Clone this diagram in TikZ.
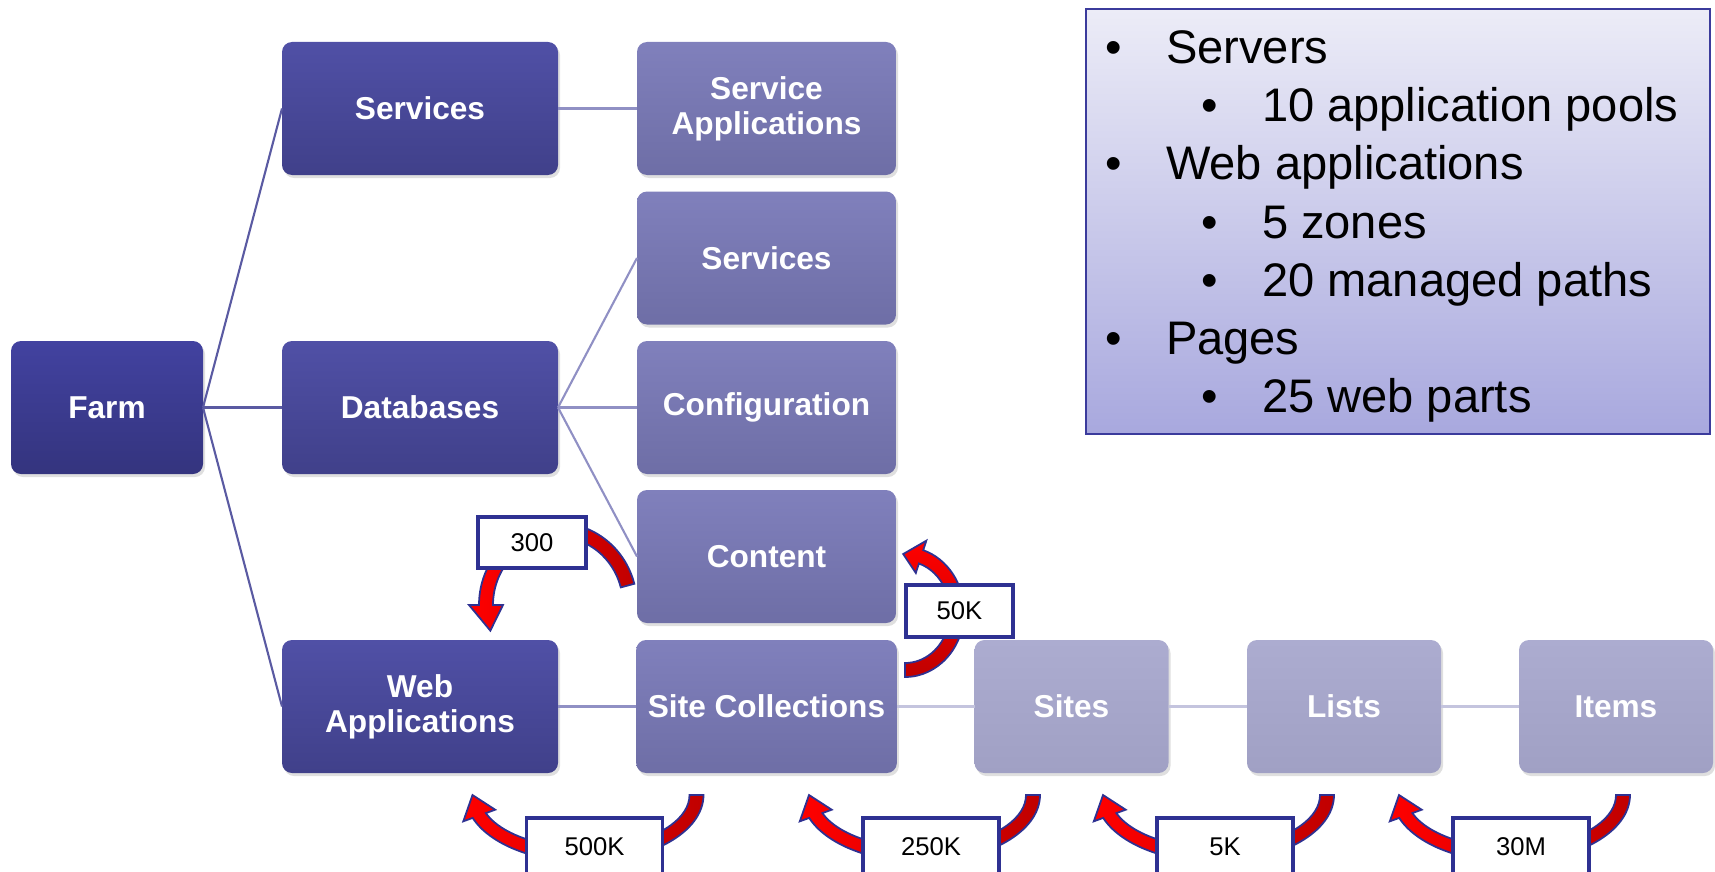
\documentclass[tikz,border=0pt]{standalone}
\usepackage{fontspec}
\setmainfont{Liberation Sans}
\usetikzlibrary{shadows}

\definecolor{farmtop}{HTML}{4242A0}
\definecolor{farmbot}{HTML}{34347E}
\definecolor{tiertop}{HTML}{5050A6}
\definecolor{tierbot}{HTML}{40408A}
\definecolor{subtop}{HTML}{8080BC}
\definecolor{subbot}{HTML}{6E6EA6}
\definecolor{leaftop}{HTML}{ACACD0}
\definecolor{leafbot}{HTML}{A0A0C4}
\definecolor{linkdark}{HTML}{5A5AA2}
\definecolor{linkmid}{HTML}{9090C4}
\definecolor{linklight}{HTML}{C4C4DE}
\definecolor{navy}{HTML}{2E3192}
\definecolor{darkred}{HTML}{C00000}
\definecolor{legendtop}{HTML}{ECECF7}
\definecolor{legendbot}{HTML}{A8A8DE}
\definecolor{legendedge}{HTML}{3B3B9C}

% curved arrow: center, x radius, y radius, tail angle, head angle, tip angle, shading
\newcommand{\curvedarrow}[7]{%
  \pgfmathsetmacro\rxo{#2+0.07}\pgfmathsetmacro\ryo{#3+0.07}
  \pgfmathsetmacro\rxi{#2-0.07}\pgfmathsetmacro\ryi{#3-0.07}
  \pgfmathsetmacro\rxh{#2+0.17}\pgfmathsetmacro\ryh{#3+0.17}
  \pgfmathsetmacro\rxl{#2-0.17}\pgfmathsetmacro\ryl{#3-0.17}
  \path[bigarrow,#7] ([shift={(#4:\rxo cm and \ryo cm)}]#1)
    arc[start angle=#4, end angle=#5, x radius=\rxo cm, y radius=\ryo cm]
    -- ([shift={(#5:\rxh cm and \ryh cm)}]#1)
    -- ([shift={(#6:#2cm and #3cm)}]#1)
    -- ([shift={(#5:\rxl cm and \ryl cm)}]#1)
    -- ([shift={(#5:\rxi cm and \ryi cm)}]#1)
    arc[start angle=#5, end angle=#4, x radius=\rxi cm, y radius=\ryi cm]
    -- cycle;}

\begin{document}
\begin{tikzpicture}[every node/.style={outer sep=0pt},
  box/.style={rounded corners=0.1cm, minimum height=1.33cm, text=white, align=center,
    font=\fontsize{9}{10}\selectfont\bfseries,
    drop shadow={opacity=0.25, shadow xshift=0.02cm, shadow yshift=-0.03cm}},
  farmbox/.style={box, minimum width=1.92cm, top color=farmtop, bottom color=farmbot},
  tierbox/.style={box, minimum width=2.76cm, top color=tiertop, bottom color=tierbot},
  subbox/.style={box, minimum width=2.59cm, top color=subtop, bottom color=subbot},
  leafbox/.style={box, minimum width=1.94cm, top color=leaftop, bottom color=leafbot},
  countbox/.style={draw=navy, line width=1.1pt, fill=white, minimum width=1.36cm,
    minimum height=0.58cm, font=\fontsize{7.3}{8}\selectfont},
  bigarrow/.style={draw=navy, line width=0.5pt}]
\useasboundingbox (0,0) rectangle (17.15,8.71);

\node[farmbox] (farm) at (1.07,4.635) {Farm};

\node[tierbox] (services) at (4.20,7.625) {Services};
\node[tierbox] (databases) at (4.20,4.635) {Databases};
\node[tierbox] (webapps) at (4.20,1.645) {Web\\Applications};

\node[subbox] (serviceapps) at (7.665,7.625) {Service\\Applications};
\node[subbox] (servicedb) at (7.665,6.13) {Services};
\node[subbox] (configdb) at (7.665,4.635) {Configuration};
\node[subbox] (contentdb) at (7.665,3.145) {Content};
\node[subbox] (sitecolls) at (7.665,1.645) {Site Collections};

\node[leafbox] (sites) at (10.715,1.645) {Sites};
\node[leafbox] (lists) at (13.44,1.645) {Lists};
\node[leafbox] (items) at (16.16,1.645) {Items};

\draw[linkdark, line width=0.6pt] (farm.east) -- (services.west);
\draw[linkdark, line width=0.6pt] (farm.east) -- (databases.west);
\draw[linkdark, line width=0.6pt] (farm.east) -- (webapps.west);
\draw[linkmid, line width=0.6pt] (services.east) -- (serviceapps.west);
\draw[linkmid, line width=0.6pt] (databases.east) -- (servicedb.west);
\draw[linkmid, line width=0.6pt] (databases.east) -- (configdb.west);
\draw[linkmid, line width=0.6pt] (databases.east) -- (contentdb.west);
\draw[linkmid, line width=0.6pt] (webapps.east) -- (sitecolls.west);
\draw[linklight, line width=0.6pt] (sitecolls.east) -- (sites.west);
\draw[linklight, line width=0.6pt] (sites.east) -- (lists.west);
\draw[linklight, line width=0.6pt] (lists.east) -- (items.west);

% limits
\coordinate (turn300) at (5.58,2.66);
\coordinate (turn50k) at (9.05,2.59);
\coordinate (turn500k) at (5.845,0.76);
\coordinate (turn250k) at (9.21,0.76);
\coordinate (turn5k) at (12.15,0.76);
\coordinate (turn30m) at (15.11,0.76);

\curvedarrow{turn300}{0.72}{0.75}{15}{180}{200}{left color=red, right color=darkred}
\curvedarrow{turn50k}{0.52}{0.58}{-90}{72}{92}{top color=red, bottom color=darkred}
\foreach \c in {turn500k,turn250k,turn5k,turn30m}
  \curvedarrow{\c}{1.12}{0.60}{0}{-160}{-180}{left color=red, right color=darkred};

\node[countbox, minimum width=1.08cm, minimum height=0.51cm] (n300) at (5.32,3.285) {300};
\node[countbox, minimum width=1.07cm, minimum height=0.52cm] (n50k) at (9.595,2.60) {50K};
\node[countbox] (n500k) at (5.945,0.24) {500K};
\node[countbox] (n250k) at (9.31,0.24) {250K};
\node[countbox] (n5k) at (12.25,0.24) {5K};
\node[countbox] (n30m) at (15.21,0.24) {30M};

% legend
\node[draw=legendedge, line width=0.6pt, top color=legendtop, bottom color=legendbot,
  minimum width=6.24cm, minimum height=4.25cm] (legend) at (13.98,6.495) {};
\foreach \txt/\lvl [count=\i from 0] in {Servers/0, 10 application pools/1,
    Web applications/0, 5 zones/1, 20 managed paths/1, Pages/0, 25 web parts/1} {
  \node[anchor=base, font=\fontsize{13.4}{16}\selectfont] (dot\i) at ({11.135+0.965*\lvl},{8.07-0.58*\i}) {•};
  \node[anchor=base west, inner sep=0pt, font=\fontsize{13.4}{16}\selectfont] (item\i) at ({11.66+0.96*\lvl},{8.07-0.58*\i}) {\txt};
}
\end{tikzpicture}
\end{document}
